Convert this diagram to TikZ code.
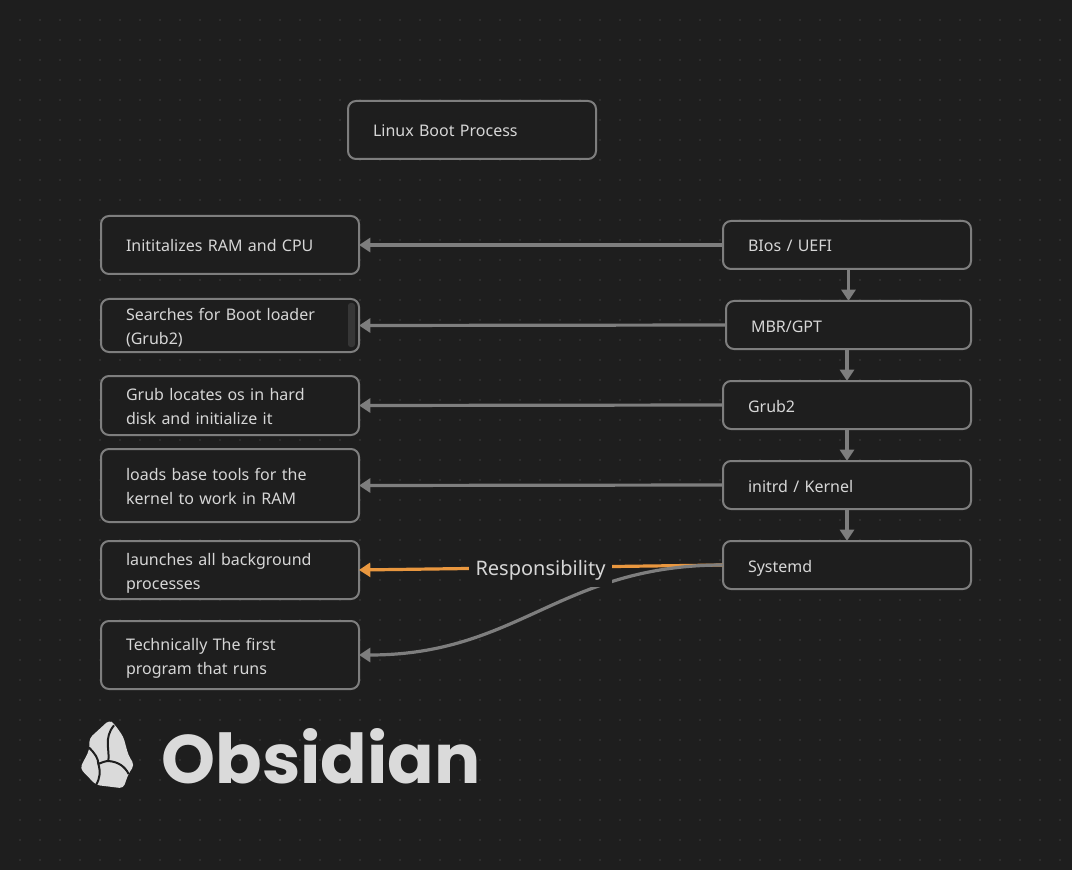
\documentclass[tikz,border=0pt]{standalone}
\usepackage{fontspec}
\setmainfont{Noto Sans}
\newfontfamily\logofont{Poppins}
\usetikzlibrary{arrows.meta}

\definecolor{canvasbg}{HTML}{1E1E1E}
\definecolor{griddot}{HTML}{3E3E3E}
\definecolor{edgegray}{HTML}{7E7E7E}
\definecolor{textgray}{HTML}{D6D6D6}
\definecolor{logogray}{HTML}{DADADA}
\definecolor{barfill}{HTML}{363636}
\definecolor{orangeedge}{HTML}{E9973F}
\def\px{0.75pt}

\begin{document}
\begin{tikzpicture}[
    x = 0.75pt,
    y = -0.75pt,
    >={Triangle[length=8.5pt,width=10.5pt]},
    box/.style = {
      draw = edgegray,
      fill = canvasbg,
      line width = 2*\px,
      rounded corners = 6pt,
      outer sep = 0pt,
      inner xsep = 25*\px,
      inner ysep = 0pt,
      align = left,
      text = textgray,
      font = \fontsize{12}{18}\selectfont,
      minimum width = #1*\px,
      text width = (#1-50)*\px,
      execute at begin node = \rule{0pt}{13.5pt},
      execute at end node = \rule[-3pt]{0pt}{3pt}
    },
    link/.style = {
      draw = edgegray,
      line width = 3.2*\px,
      ->
    }
  ]
  \useasboundingbox (0,0) rectangle (1072,870);
  \fill[canvasbg] (0,0) rectangle (1072,870);

  % dotted canvas
  \foreach \gx in {20,40,...,1060}
    \foreach \gy in {20,40,...,860}
      \fill[griddot] (\gx,\gy) circle (0.8*\px);

  \node[box=248, minimum height=58*\px] (title) at (472,130) {Linux Boot Process};

  % left column
  \node[box=258, minimum height=58*\px] (ram) at (230,245) {Inititalizes RAM and CPU};
  \node[box=258, minimum height=53*\px] (search) at (230,325.5) {Searches for Boot loader\\(Grub2)};
  \node[box=258, minimum height=59*\px] (locate) at (230,405.5) {Grub locates os in hard\\disk and initialize it};
  \node[box=258, minimum height=73*\px] (tools) at (230,485.5) {loads base tools for the\\kernel to work in RAM};
  \node[box=258, minimum height=58*\px] (launch) at (230,570) {launches all background\\processes};
  \node[box=258, minimum height=68*\px] (first) at (230,655) {Technically The first\\program that runs};

  % right column
  \node[box=248, minimum height=48*\px] (bios) at (847,245) {BIos / UEFI};
  \node[box=245, minimum height=48*\px] (mbr) at (848.5,325) {MBR/GPT};
  \node[box=248, minimum height=48*\px] (grub) at (847,405) {Grub2};
  \node[box=248, minimum height=48*\px] (initrd) at (847,485) {initrd / Kernel};
  \node[box=248, minimum height=48*\px] (systemd) at (847,565) {Systemd};

  \fill[barfill, rounded corners=2pt] (348,303) rectangle (355,347);

  \draw[link] (bios.west) -- (ram.east);
  \draw[link] (mbr.west) -- (search.east);
  \draw[link] (grub.west) -- (locate.east);
  \draw[link] (initrd.west) -- (tools.east);

  \draw[link] (mbr.north |- bios.south) -- (mbr.north);
  \draw[link] (grub.north |- mbr.south) -- (grub.north);
  \draw[link] (grub.south) -- (initrd.north);
  \draw[link] (initrd.south) -- (systemd.north);

  \draw[link, draw=orangeedge] (systemd.west) -- (launch.east);
  \draw[link] (systemd.west) .. controls +(-163,0) and +(160,0) .. (first.east);

  \node[fill=canvasbg, text=textgray, inner xsep=0pt, inner ysep=0pt, minimum width=143*\px,
    minimum height=34*\px, font=\fontsize{15}{18}\selectfont] (resp) at (540.5,570) {Responsibility};

  % logo
  \begin{scope}[shift={(60,700)}, x=0.25pt, y=-0.25pt]
    \fill[logogray, rounded corners=3pt] (148,60) -- (163,72) -- (190,110) -- (205,165)
      -- (223,195) -- (205,222) -- (190,265) -- (108,255) -- (60,205) -- (88,150)
      -- (88,115) -- cycle;
    \draw[canvasbg, line width=1.5pt] (162,76) .. controls (130,115) and (150,150) .. (145,183)
      (86,142) .. controls (105,160) and (115,175) .. (115,192)
      .. controls (122,215) and (120,235) .. (108,255)
      (115,192) .. controls (130,185) and (140,183) .. (145,183)
      .. controls (175,185) and (195,200) .. (206,222);
  \end{scope}
  \node[inner sep=0pt, text=logogray, font=\logofont\bfseries\fontsize{51.5}{60}\selectfont] (wordmark) at (321,756) {Obsidian};
\end{tikzpicture}
\end{document}
